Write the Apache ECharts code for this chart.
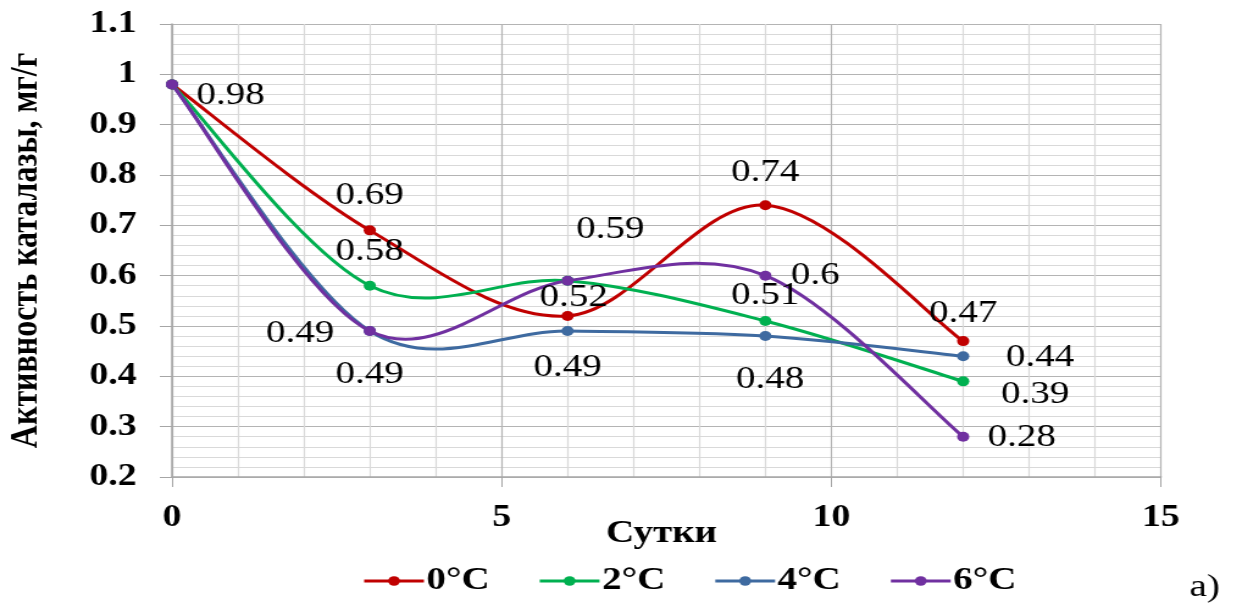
<!DOCTYPE html>
<html>
<head>
<meta charset="utf-8">
<script src="https://cdn.jsdelivr.net/npm/echarts@6/dist/echarts.min.js"></script>
<style>
html,body{margin:0;padding:0;background:#fff;overflow:hidden;}
#wrap{width:1242px;height:610px;overflow:hidden;}
#chart{width:1018px;height:610px;transform:scaleX(1.22);transform-origin:0 0;}
</style>
</head>
<body>
<div id="wrap"><div id="chart"></div></div>
<script>
// ---- data ----
const days = [0, 3, 6, 9, 12];
const seriesNames = ['0°C', '2°C', '4°C', '6°C'];
const vals0 = [0.98, 0.69, 0.52, 0.74, 0.47];
const vals2 = [0.98, 0.58, 0.59, 0.51, 0.39];
const vals4 = [0.98, 0.49, 0.49, 0.48, 0.44];
const vals6 = [0.98, 0.49, 0.59, 0.60, 0.28];
const xTickValues = [0, 5, 10, 15];
const yTickValues = [0.2, 0.3, 0.4, 0.5, 0.6, 0.7, 0.8, 0.9, 1, 1.1];
const yTitle = 'Активность каталазы, мг/г';
const xTitle = 'Сутки';
const panelTag = 'а)';

// ---- styling / label placement (offsets from point, null = hidden) ----
const colors = ['#C00000', '#00B050', '#3E6AA0', '#7030A0'];
const labelOffsets = [
  [[48, 11], [0, -35], [5, -18], [0, -33], [0, -28]],
  [null, [0, -34], [35, -51], [0, -25], [59, 13]],
  [null, [0, 44], [0, 37], [4, 44], [63, 1]],
  [null, [-57, 3], null, [41, 0], [48, 1]]
];
const serif = '"Liberation Serif", "Times New Roman", serif';
const allVals = [vals0, vals2, vals4, vals6];

// smooth curve (Excel-like Catmull-Rom Bezier) drawn through the axis scales
function curveSeries(vals, si) {
  return {
    name: seriesNames[si] + ' curve',
    type: 'custom',
    z: 2,
    silent: true,
    data: days.map((d, i) => [d, vals[i]]),
    renderItem: function (params, api) {
      const i = params.dataIndex;
      const n = days.length;
      if (i >= n - 1) return null;
      const P = j => api.coord([days[Math.max(0, Math.min(n - 1, j))], vals[Math.max(0, Math.min(n - 1, j))]]);
      const p0 = P(i - 1), p1 = P(i), p2 = P(i + 1), p3 = P(i + 2);
      return {
        type: 'bezierCurve',
        shape: {
          x1: p1[0], y1: p1[1],
          cpx1: p1[0] + (p2[0] - p0[0]) / 6, cpy1: p1[1] + (p2[1] - p0[1]) / 6,
          cpx2: p2[0] - (p3[0] - p1[0]) / 6, cpy2: p2[1] - (p3[1] - p1[1]) / 6,
          x2: p2[0], y2: p2[1]
        },
        style: { stroke: colors[si], lineWidth: 3, fill: null }
      };
    }
  };
}

const pointSeries = allVals.map((vals, si) => ({
  name: seriesNames[si],
  type: 'line',
  z: 3,
  symbol: 'circle',
  symbolSize: 10,
  lineStyle: { width: 3, color: colors[si], opacity: 0 },
  itemStyle: { color: colors[si] },
  label: {
    show: true,
    position: 'inside',
    color: '#000',
    fontFamily: serif,
    fontSize: 32,
    formatter: p => String(p.value[1])
  },
  data: days.map((d, i) => {
    const off = labelOffsets[si][i];
    return {
      value: [d, vals[i]],
      label: off ? { show: true, offset: off } : { show: false }
    };
  })
}));

const chart = echarts.init(document.getElementById('chart'), null, { renderer: 'canvas' });
chart.setOption({
  animation: false,
  backgroundColor: '#fff',
  grid: { left: 141, right: 66.4, top: 24, bottom: 133, outerBoundsMode: 'none', containLabel: false },
  xAxis: {
    type: 'value',
    min: xTickValues[0],
    max: xTickValues[xTickValues.length - 1],
    interval: 5,
    name: xTitle,
    nameLocation: 'middle',
    nameGap: 33,
    nameMoveOverlap: false,
    nameTextStyle: { fontFamily: serif, fontSize: 32, fontWeight: 'bold', color: '#000', padding: [8, 8, 0, 0] },
    axisLine: { show: true, lineStyle: { color: '#a6a6a6', width: 1.5 } },
    axisTick: { show: true, length: 10, lineStyle: { color: '#a6a6a6' } },
    minorTick: { show: false, splitNumber: 5 },
    axisLabel: { fontFamily: serif, fontSize: 31, fontWeight: 'bold', color: '#000', margin: 25 },
    splitLine: { show: true, lineStyle: { color: '#b4b4b4', width: 1.2 } },
    minorSplitLine: { show: true, lineStyle: { color: '#d9d9d9', width: 1.2 } }
  },
  yAxis: {
    type: 'value',
    min: yTickValues[0],
    max: yTickValues[yTickValues.length - 1],
    interval: 0.1,
    name: yTitle,
    nameLocation: 'middle',
    nameGap: 103,
    nameMoveOverlap: false,
    nameTextStyle: { fontFamily: serif, fontSize: 32, fontWeight: 'bold', color: '#000' },
    axisLine: { show: true, lineStyle: { color: '#a6a6a6', width: 1.5 } },
    axisTick: { show: true, length: 10, lineStyle: { color: '#a6a6a6' } },
    minorTick: { show: false, splitNumber: 5 },
    axisLabel: {
      fontFamily: serif, fontSize: 31, fontWeight: 'bold', color: '#000', margin: 29,
      formatter: v => String(Math.round(v * 10) / 10)
    },
    splitLine: { show: true, lineStyle: { color: '#b4b4b4', width: 1.2 } },
    minorSplitLine: { show: true, lineStyle: { color: '#d9d9d9', width: 1.2 } }
  },
  legend: {
    data: seriesNames.map((nm, si) => ({
      name: nm,
      lineStyle: { color: colors[si], width: 3, opacity: 1 }
    })),
    lineStyle: { opacity: 1 },
    left: 292,
    top: 560,
    itemWidth: 49,
    itemHeight: 12,
    itemGap: 39.5,
    textStyle: { fontFamily: serif, fontSize: 32, fontWeight: 'bold', color: '#000', padding: [0, 0, 0, -3] }
  },
  graphic: [{
    type: 'text',
    left: 975,
    top: 572,
    style: { text: panelTag, font: '32px ' + serif, fill: '#000' }
  }],
  series: allVals.map(curveSeries).concat(pointSeries)
});
</script>
</body>
</html>
